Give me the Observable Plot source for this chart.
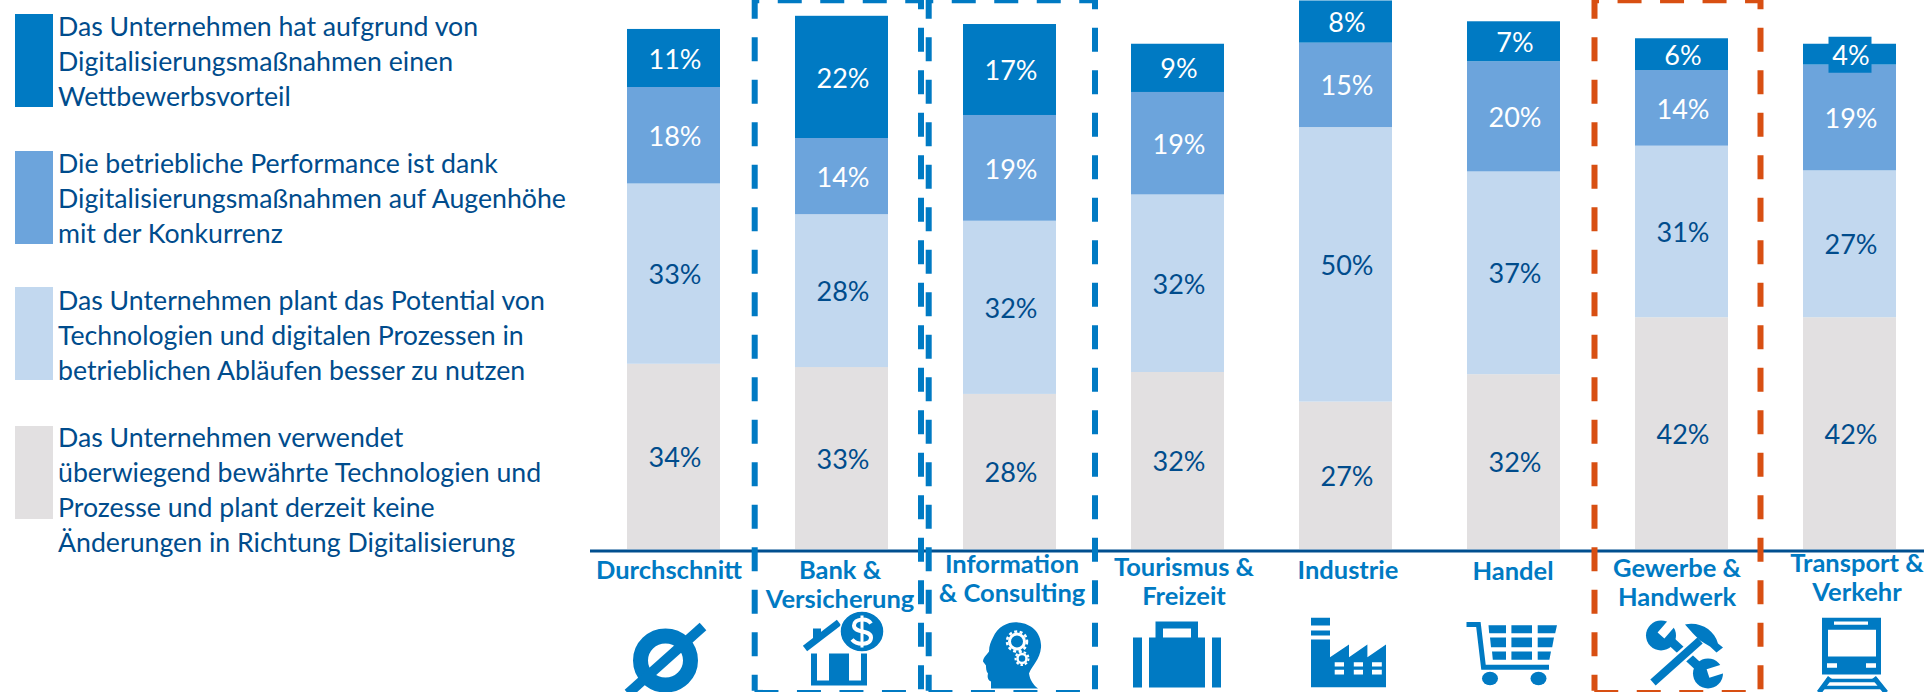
<!DOCTYPE html>
<html lang="de">
<head>
<meta charset="utf-8">
<style>
  html, body { margin: 0; padding: 0; background: #fff; overflow: hidden; }
  #page { position: relative; width: 1924px; height: 692px; overflow: hidden; }
  #legend { position: absolute; left: 0; top: 0; width: 590px; height: 692px; }
  .swatch { position: absolute; left: 15px; width: 37.5px; height: 93px; }
  .entry { position: absolute; left: 58px; white-space: pre; font: 400 26.7px/35px Lato, sans-serif; color: #004c8c; }
  #chart { position: absolute; left: 590px; top: 0; }
  #chart svg { display: block; }
</style>
<script src="https://cdn.jsdelivr.net/npm/d3@7"></script>
<script src="https://cdn.jsdelivr.net/npm/@observablehq/plot@0.6"></script>
</head>
<body>
<div id="page"><div id="legend"></div><div id="chart"></div></div>
<script>
// ---------- data ----------
const categories = ["Durchschnitt", "Bank & Versicherung", "Information & Consulting", "Tourismus & Freizeit", "Industrie", "Handel", "Gewerbe & Handwerk", "Transport & Verkehr"];
const tickLabels = ["Durchschnitt", "Bank &\nVersicherung", "Information\n& Consulting", "Tourismus &\nFreizeit", "Industrie", "Handel", "Gewerbe &\nHandwerk", "Transport &\nVerkehr"];
const bewaehrt = [33.8, 33.2, 28.3, 32.3, 26.9, 31.9, 42.3, 42.3];
const potential = [32.9, 27.9, 31.6, 32.4, 50.1, 37.0, 31.3, 26.8];
const augenhoehe = [17.6, 13.9, 19.3, 18.7, 15.4, 20.1, 13.8, 19.3];
const vorteil = [10.6, 22.3, 16.6, 8.8, 7.7, 7.3, 5.8, 3.8];
const seriesLegend = [
  "Das Unternehmen hat aufgrund von\nDigitalisierungsmaßnahmen einen\nWettbewerbsvorteil",
  "Die betriebliche Performance ist dank\nDigitalisierungsmaßnahmen auf Augenhöhe\nmit der Konkurrenz",
  "Das Unternehmen plant das Potential von\nTechnologien und digitalen Prozessen in\nbetrieblichen Abläufen besser zu nutzen",
  "Das Unternehmen verwendet\nüberwiegend bewährte Technologien und\nProzesse und plant derzeit keine\nÄnderungen in Richtung Digitalisierung"
];
const seriesColors = ["#007ac3", "#6ca4dc", "#c2d8ef", "#e2e0e1"];
const labelColors = ["#ffffff", "#ffffff", "#004c8c", "#004c8c"];
const seriesValues = [vorteil, augenhoehe, potential, bewaehrt];
const boxedLabelCategories = ["Transport & Verkehr"];

// ---------- style / layout ----------
const BLUE = "#007ac3", NAVY = "#004f8f", ORANGE = "#d84f12";
const legendSwatchTops = [14, 151, 287, 426];
const legendTextTops = [9, 146, 283, 420];
const tickNudges = [[-5, 570], [-2, 570], [2, 564], [6, 567], [2, 570], [-1, 571], [-5, 568], [7, 563]];
const boxes = [
  {cat: "Bank & Versicherung", color: BLUE, left: -87.3, right: 79},
  {cat: "Information & Consulting", color: BLUE, left: -81.3, right: 85},
  {cat: "Gewerbe & Handwerk", color: ORANGE, left: -87.5, right: 78.5}
];

// ---------- icons: 120 x 84 box centred under each band ----------
const B = BLUE;
const iconMarkup = [
  // average sign
  `<ellipse cx="51.500" cy="51" rx="25" ry="24.500" fill="none" stroke="${B}" stroke-width="15"/><path d="M14 84L89 17" stroke="${B}" stroke-width="10"/>`,
  // house and coin
  `<path d="M29 44h6v27h12V44h20v27h12V44h6v32H29z" fill="${B}"/><path d="M23 39L57 13" stroke="${B}" stroke-width="7" fill="none"/><path d="M31 34V19h8v10z" fill="${B}"/>
   <ellipse cx="80" cy="22" rx="22" ry="20.5" fill="${B}" stroke="#fff" stroke-width="1.5"/>
   <path d="M89 14C85 8 72 9 72 16C72 24 89 20 89 28C89 36 75 36 70 30" fill="none" stroke="#fff" stroke-width="4"/><path d="M80 6V38" stroke="#fff" stroke-width="3"/>`,
  // head with gears
  `<path d="M43 28C48 16 60 12 68 13C82 14 92 24 91 38C90 50 82 56 79 64C80 71 84 76 88 79L41 79L41 72C38 71 37 68 38 64C36 62 36 58 36 56L33 52C33 48 38 44 39 42C39 36 41 32 43 28Z" fill="${B}"/>
   <circle cx="67" cy="32" r="7.5" fill="none" stroke="#fff" stroke-width="3"/><circle cx="67" cy="32" r="10" fill="none" stroke="#fff" stroke-width="2.500" stroke-dasharray="3 2.5"/>
   <circle cx="72" cy="49" r="4.5" fill="none" stroke="#fff" stroke-width="2.500"/><circle cx="72" cy="49" r="6.500" fill="none" stroke="#fff" stroke-width="2" stroke-dasharray="2.5 2"/>`,
  // briefcase
  `<path d="M15 28h9v50h-9zM94 28h9v50h-9zM31 28h6.500V12H80v16h7v50H31zM45 28h28v-9H45z" fill="${B}" fill-rule="evenodd"/>`,
  // factory
  `<path d="M25 8.300h19V16H25zM25 21h19v5H25z" fill="${B}"/><path d="M25 30h19v17.700L63 35v12.700L81.400 35v12.700L100 35v42.700H25z" fill="${B}"/>
   <path d="M48.700 52.700H58V57h-9.300zM67.800 52.700H77V57h-9.200zM86 52.700h9.800V57H86zM48.700 60.300H58V65h-9.300zM67.800 60.300H77V65h-9.200zM86 60.300h9.800V65H86z" fill="#fff"/>`,
  // shopping cart
  `<path d="M12.500 15H24.400L29.500 57.700H95" fill="none" stroke="${B}" stroke-width="5"/><ellipse cx="36" cy="69" rx="8" ry="6.700" fill="${B}"/><ellipse cx="84.500" cy="69" rx="8" ry="6.700" fill="${B}"/>
   <path d="M34.500 15.700H52V23.700H35.200zM57.400 15.700H78V23.700H57.400zM83.700 15.700H103L101.200 23.700H83.700zM36 28H52V37.700H37zM57.400 28H78V37.700H57.400zM83.700 28H100L98.200 37.700H83.700zM38 42H52V50.300H38.800zM57.400 42H78V50.300H57.400zM83.700 42H97L95.400 50.300H83.700z" fill="${B}"/>`,
  // tools
  `<path d="M45 28L85 65" stroke="${B}" stroke-width="9"/><circle cx="39" cy="26" r="15" fill="${B}"/><path d="M39 26L52 11" stroke="#fff" stroke-width="9"/>
   <circle cx="86" cy="64" r="15" fill="${B}"/><path d="M86 64L105 58" stroke="#fff" stroke-width="9"/>
   <path d="M78 31L31 73" stroke="#fff" stroke-width="13"/><path d="M78 31L31 73" stroke="${B}" stroke-width="8"/>
   <path d="M63 15C78 12 92 20 96 34L101 38L94.500 43L88 37L78 31L71 24Z" fill="${B}"/>`,
  // train
  `<path d="M32 8.300h59V65H32z" fill="${B}"/><path d="M44 12h34v3.300H44zM38 20.300h48V47H38zM37 53.700h10v4.600H37zM76 53.700h10v4.600H76z" fill="#fff"/>
   <path d="M40 68L29 83M84 68L96 83" stroke="${B}" stroke-width="5" fill="none"/><path d="M36 71H88M32 78H92" stroke="${B}" stroke-width="3.500"/>`
];
const iconSrc = m => "data:image/svg+xml," + encodeURIComponent(`<svg xmlns="http://www.w3.org/2000/svg" width="120" height="84" viewBox="0 0 120 84">${m}</svg>`);
const icons = categories.map((cat, i) => ({cat, src: iconSrc(iconMarkup[i])}));

// ---------- tables ----------
const segments = [];
categories.forEach((cat, i) => {
  let base = 0;
  for (let s = seriesValues.length - 1; s >= 0; --s) {
    const value = seriesValues[s][i];
    segments.push({cat, series: s, value, mid: base + value / 2, label: Math.round(value) + "%"});
    base += value;
  }
});
const boxedLabels = segments.filter(d => d.series === 0 && boxedLabelCategories.includes(d.cat));
const boxSymbol = {draw(ctx) { ctx.rect(-21.5, -18, 43, 36); }};
const TOP = 100.24, BOTTOM = -25.85;   // frame ends, on the value axis
const dash = "24 18.5";

const marks = [
  Plot.barY(segments, Plot.stackY({x: "cat", y: "value", z: "series", order: null, fill: d => seriesColors[d.series]})),
  Plot.dot(boxedLabels, {x: "cat", y: "mid", symbol: boxSymbol, r: 1, fill: seriesColors[0]}),
  Plot.text(segments, {
    x: "cat", y: "mid", text: "label", dx: 1, dy: 1.500,
    fill: {value: d => labelColors[d.series], scale: null},
    fontFamily: "Lato, sans-serif", fontSize: 27, letterSpacing: "-0.4px"
  }),
  Plot.ruleY([0], {stroke: NAVY, strokeWidth: 3, dy: 1.5}),
  ...boxes.flatMap(b => [
    Plot.ruleX([b.cat], {y1: TOP, y2: BOTTOM, dx: b.left, stroke: b.color, strokeWidth: 6, strokeDasharray: dash, strokeDashoffset: 5}),
    Plot.ruleX([b.cat], {y1: TOP, y2: BOTTOM, dx: b.right, stroke: b.color, strokeWidth: 6, strokeDasharray: dash, strokeDashoffset: 14.5}),
    Plot.ruleY([TOP], {x1: () => b.cat, x2: () => b.cat, insetLeft: b.left + 46.75, insetRight: -(b.right - 46.75), stroke: b.color, strokeWidth: 6, strokeDasharray: dash, strokeDashoffset: 19.2}),
    Plot.ruleY([BOTTOM], {x1: () => b.cat, x2: () => b.cat, insetLeft: b.left + 46.75, insetRight: -(b.right - 46.75), stroke: b.color, strokeWidth: 2.5, strokeDasharray: dash})
  ]),
  ...categories.map((cat, i) => Plot.text([cat], {
    x: d => d, text: [tickLabels[i]], y: 0, dx: tickNudges[i][0], dy: tickNudges[i][1] - 549 - 12,
    lineAnchor: "top", lineHeight: 29 / 25.5,
    fill: BLUE, fontFamily: "Lato, sans-serif", fontWeight: 700, fontSize: 25.5
  })),
  Plot.image(icons, {x: "cat", y: () => 0, src: "src", width: 120, height: 84, dy: 102})
];

const chart = Plot.plot({
  width: 1334, height: 692,
  marginLeft: 0, marginRight: 0, marginTop: 1, marginBottom: 143,
  style: {background: "transparent", overflow: "visible"},
  x: {domain: categories, paddingInner: 0.444, paddingOuter: 0.19, align: 0.57, axis: null},
  y: {domain: [0, 100], axis: null},
  marks
});
document.getElementById("chart").appendChild(chart);

// ---------- legend ----------
const legend = document.getElementById("legend");
seriesLegend.forEach((text, i) => {
  const sw = document.createElement("div");
  sw.className = "swatch";
  sw.style.top = legendSwatchTops[i] + "px";
  sw.style.background = seriesColors[i];
  legend.appendChild(sw);
  const t = document.createElement("div");
  t.className = "entry";
  t.style.top = legendTextTops[i] + "px";
  t.textContent = text;
  legend.appendChild(t);
});
</script>
</body>
</html>
